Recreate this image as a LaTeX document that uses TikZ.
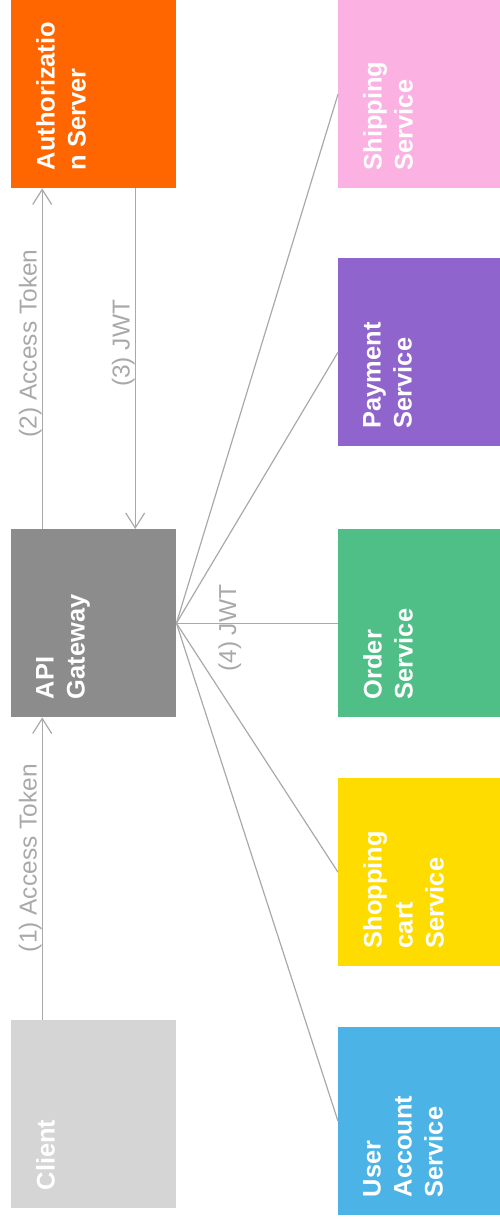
\documentclass[tikz,border=0pt]{standalone}
\usepackage{fontspec}
\setmainfont{Liberation Sans}
\usetikzlibrary{arrows.meta}
\definecolor{authorange}{HTML}{FF6600}
\definecolor{gwgray}{HTML}{8C8C8C}
\definecolor{clientgray}{HTML}{D5D5D5}
\definecolor{shippink}{HTML}{FBB1E1}
\definecolor{paypurple}{HTML}{8F65CD}
\definecolor{ordergreen}{HTML}{50BF87}
\definecolor{cartyellow}{HTML}{FFDC00}
\definecolor{userblue}{HTML}{4CB3E6}
\definecolor{linegray}{HTML}{A9A9A9}
\begin{document}
\begin{tikzpicture}[x=1pt, y=-1pt,
  box/.style={rectangle, inner sep=0pt, minimum width=165pt, minimum height=188pt, anchor=north west},
  svc/.style={box, minimum width=162pt},
  boxtext/.style={rotate=90, anchor=north west, align=left, inner sep=0pt, text=white,
               font=\fontsize{25.4}{31}\selectfont\bfseries},
  arrow/.style={draw=linegray, line width=1.2pt, -{Straight Barb[length=15pt,width=19pt]}},
  link/.style={draw=linegray, line width=1.2pt},
  note/.style={rotate=90, inner sep=0pt, text=linegray, font=\fontsize{24.5}{29}\selectfont}
]
  \useasboundingbox (0,0) rectangle (500,1219);

  % left column
  \node[box, fill=authorange] (auth) at (11,0) {};
  \node[boxtext] (authtxt) at ([shift={(25,-18)}]auth.south west) {Authorizatio\\n Server};

  \node[box, fill=gwgray] (gateway) at (11,529) {};
  \node[boxtext] (gatewaytxt) at ([shift={(25,-18)}]gateway.south west) {API\\Gateway};

  \node[box, fill=clientgray] (client) at (11,1020) {};
  \node[boxtext] (clienttxt) at ([shift={(25,-18)}]client.south west) {Client};

  % services
  \node[svc, fill=shippink] (ship) at (338,0) {};
  \node[boxtext] (shiptxt) at ([shift={(25,-18)}]ship.south west) {Shipping\\Service};

  \node[svc, fill=paypurple] (pay) at (338,258) {};
  \node[boxtext] (paytxt) at ([shift={(25,-18)}]pay.south west) {Payment\\Service};

  \node[svc, fill=ordergreen] (order) at (338,529) {};
  \node[boxtext] (ordertxt) at ([shift={(25,-18)}]order.south west) {Order\\Service};

  \node[svc, fill=cartyellow] (cart) at (338,778) {};
  \node[boxtext] (carttxt) at ([shift={(25,-18)}]cart.south west) {Shopping\\cart\\Service};

  \node[svc, fill=userblue] (user) at (338,1027) {};
  \node[boxtext] (usertxt) at ([shift={(25,-18)}]user.south west) {User\\Account\\Service};

  % token flow
  \draw[arrow] ([xshift=-51.5pt]client.north) --
    node[note, pos=0.535, anchor=south] {(1) Access Token} ([xshift=-51.5pt]gateway.south);
  \draw[arrow] ([xshift=-51.5pt]gateway.north) --
    node[note, pos=0.545, anchor=south] {(2) Access Token} ([xshift=-51.5pt]auth.south);
  \draw[arrow] ([xshift=41.5pt]auth.south) --
    node[note, pos=0.455, anchor=south] {(3) JWT} ([xshift=41.5pt]gateway.north);

  \draw[link] (gateway.east) -- node[note, pos=0.33, xshift=-5pt] {(4) JWT} (order.west);
  \foreach \s in {ship,pay,cart,user}
    \draw[link] (gateway.east) -- (\s.west);
\end{tikzpicture}
\end{document}
